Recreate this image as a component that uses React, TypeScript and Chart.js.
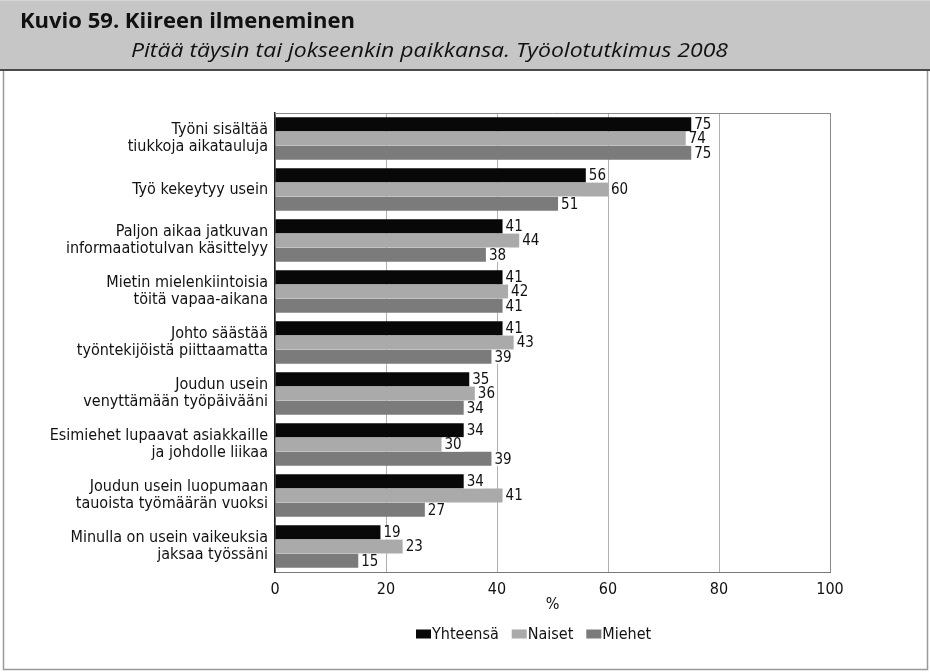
import React, { useEffect, useRef } from 'react';
import { Chart, registerables } from 'chart.js';

Chart.register(...registerables);

const categories: (string | string[])[] = [
  ['Työni sisältää', 'tiukkoja aikatauluja'],
  'Työ kekeytyy usein',
  ['Paljon aikaa jatkuvan', 'informaatiotulvan käsittelyy'],
  ['Mietin mielenkiintoisia', 'töitä vapaa-aikana'],
  ['Johto säästää', 'työntekijöistä piittaamatta'],
  ['Joudun usein', 'venyttämään työpäivääni'],
  ['Esimiehet lupaavat asiakkaille', 'ja johdolle liikaa'],
  ['Joudun usein luopumaan', 'tauoista työmäärän vuoksi'],
  ['Minulla on usein vaikeuksia', 'jaksaa työssäni'],
];
const seriesNames = ['Yhteensä', 'Naiset', 'Miehet'];
const yhteensa = [75, 56, 41, 41, 41, 35, 34, 34, 19];
const naiset = [74, 60, 44, 42, 43, 36, 30, 41, 23];
const miehet = [75, 51, 38, 41, 39, 34, 39, 27, 15];
const xTicks = [0, 20, 40, 60, 80, 100];
const titleText = 'Kuvio 59. Kiireen ilmeneminen';
const subtitleText = 'Pitää täysin tai jokseenkin paikkansa. Työolotutkimus 2008';
const axisTitle = '%';

const seriesColors = ['#080808', '#aaaaaa', '#7b7b7b'];
const NARROW = '"Liberation Sans Narrow", "DejaVu Sans Condensed", "Liberation Sans", sans-serif';
const HEAD = '"Open Sans", "Liberation Sans", "DejaVu Sans", sans-serif';

function fitText(ctx: any, text: string, x: number, y: number, targetW: number) {
  const w = ctx.measureText(text).width;
  const s = targetW / w;
  ctx.save();
  ctx.translate(x, y);
  ctx.scale(s, 1);
  ctx.fillText(text, 0, 0);
  ctx.restore();
}

const headerPlugin = {
  id: 'headerPlugin',
  beforeDraw(chart: any) {
    const ctx = chart.ctx;
    const W = chart.width;
    const H = chart.height;
    ctx.save();
    ctx.fillStyle = '#ffffff';
    ctx.fillRect(0, 0, W, H);
    ctx.fillStyle = '#c6c6c6';
    ctx.fillRect(0, 0, W, 70);
    ctx.strokeStyle = '#d6d6d6';
    ctx.lineWidth = 1;
    ctx.beginPath();
    ctx.moveTo(0, 0.5);
    ctx.lineTo(W, 0.5);
    ctx.stroke();
    ctx.strokeStyle = '#4a4a4a';
    ctx.lineWidth = 2;
    ctx.beginPath();
    ctx.moveTo(0, 70);
    ctx.lineTo(W, 70);
    ctx.stroke();
    ctx.strokeStyle = '#9a9a9a';
    ctx.lineWidth = 1.5;
    ctx.beginPath();
    ctx.moveTo(3.5, 71);
    ctx.lineTo(3.5, 669.5);
    ctx.lineTo(927.5, 669.5);
    ctx.lineTo(927.5, 71);
    ctx.stroke();
    ctx.fillStyle = '#111111';
    ctx.textBaseline = 'alphabetic';
    ctx.textAlign = 'left';
    ctx.font = `bold 21px ${HEAD}`;
    fitText(ctx, titleText, 20, 28, 335);
    ctx.font = `italic 20px ${HEAD}`;
    fitText(ctx, subtitleText, 131, 57, 597);
    ctx.restore();
  },
};

const framePlugin = {
  id: 'framePlugin',
  afterDatasetsDraw(chart: any) {
    const { ctx, chartArea } = chart;
    ctx.save();
    ctx.strokeStyle = '#8a8a8a';
    ctx.lineWidth = 1;
    ctx.beginPath();
    ctx.moveTo(chartArea.left, chartArea.top + 0.5);
    ctx.lineTo(chartArea.right + 0.5, chartArea.top + 0.5);
    ctx.lineTo(chartArea.right + 0.5, chartArea.bottom);
    ctx.stroke();
    ctx.restore();
  },
};

const valueLabelPlugin = {
  id: 'valueLabelPlugin',
  afterDatasetsDraw(chart: any) {
    const ctx = chart.ctx;
    ctx.save();
    ctx.font = `15px ${NARROW}`;
    ctx.textBaseline = 'middle';
    ctx.textAlign = 'left';
    chart.data.datasets.forEach((ds: any, di: number) => {
      const meta = chart.getDatasetMeta(di);
      meta.data.forEach((bar: any, i: number) => {
        const text = String(ds.data[i]);
        const w = ctx.measureText(text).width;
        const x = bar.x + 1;
        ctx.fillStyle = '#ffffff';
        ctx.fillRect(x, bar.y - 7, w + 4, 14);
        ctx.fillStyle = '#111111';
        ctx.fillText(text, x + 2, bar.y + 1);
      });
    });
    ctx.restore();
  },
};

const legendPlugin = {
  id: 'customLegend',
  afterDraw(chart: any) {
    const ctx = chart.ctx;
    ctx.save();
    ctx.font = `16px ${NARROW}`;
    ctx.textBaseline = 'middle';
    ctx.textAlign = 'left';
    const boxW = 15;
    const boxH = 9;
    const gapBox = 1;
    const gapItem = 13;
    const widths = seriesNames.map((n) => boxW + gapBox + ctx.measureText(n).width);
    let x = 416;
    const y = 634;
    seriesNames.forEach((n, i) => {
      ctx.fillStyle = seriesColors[i];
      ctx.fillRect(x, y - boxH / 2, boxW, boxH);
      ctx.fillStyle = '#111111';
      ctx.fillText(n, x + boxW + gapBox, y + 1);
      x += widths[i] + gapItem;
    });
    ctx.restore();
  },
};

export default function App() {
  const canvasRef = useRef<HTMLCanvasElement | null>(null);

  useEffect(() => {
    document.body.style.margin = '0';
    const canvas = canvasRef.current;
    if (!canvas) return;
    const values = [yhteensa, naiset, miehet];
    const chart = new Chart(canvas, {
      type: 'bar',
      data: {
        labels: categories,
        datasets: seriesNames.map((name, i) => ({
          label: name,
          data: values[i],
          backgroundColor: seriesColors[i],
          borderWidth: 0,
          categoryPercentage: 0.84,
          barPercentage: 0.97,
        })),
      },
      options: {
        indexAxis: 'y',
        responsive: false,
        animation: false,
        devicePixelRatio: 1,
        layout: { padding: { top: 113, right: 100, bottom: 56, left: 0 } },
        plugins: {
          legend: { display: false },
          tooltip: { enabled: false },
          title: { display: false },
        },
        scales: {
          x: {
            type: 'linear',
            min: 0,
            max: 100,
            afterBuildTicks(scale: any) {
              scale.ticks = xTicks.map((v) => ({ value: v }));
            },
            afterFit(scale: any) {
              scale.height = 44;
            },
            ticks: {
              font: { family: NARROW, size: 16 },
              color: '#111111',
              padding: 8,
            },
            grid: { color: '#b0b0b0', lineWidth: 1, drawTicks: false },
            border: { display: true, color: '#777777', width: 1 },
            title: {
              display: true,
              text: axisTitle,
              font: { family: NARROW, size: 16 },
              color: '#111111',
              padding: { top: 0, bottom: 2 },
            },
          },
          y: {
            type: 'category',
            afterFit(scale: any) {
              scale.width = 275;
            },
            ticks: {
              font: { family: NARROW, size: 16, lineHeight: 1.06 },
              color: '#111111',
              padding: 7,
            },
            grid: { display: false, drawTicks: false },
            border: { display: true, color: '#222222', width: 1.5 },
          },
        },
      },
      plugins: [headerPlugin, framePlugin, valueLabelPlugin, legendPlugin],
    } as any);
    return () => chart.destroy();
  }, []);

  return (
    <div style={{ width: 930, height: 672 }}>
      <canvas ref={canvasRef} width={930} height={672} style={{ width: 930, height: 672, display: 'block' }} />
    </div>
  );
}
